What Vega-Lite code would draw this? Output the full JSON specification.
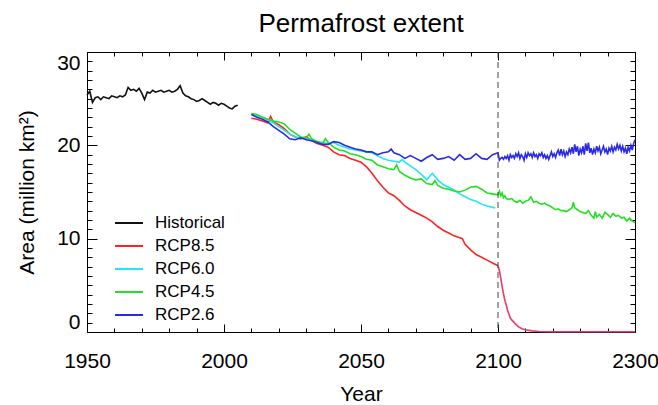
{
  "$schema": "https://vega.github.io/schema/vega-lite/v6.json",
  "width": 548,
  "height": 280,
  "autosize": {"type": "none"},
  "padding": {"left": 87, "top": 52, "right": 23, "bottom": 73},
  "background": "white",
  "config": {
    "font": "Liberation Sans",
    "view": {"stroke": "#000", "strokeWidth": 1},
    "axis": {"grid": false, "domain": false, "tickColor": "#000", "labelColor": "#000", "titleColor": "#000", "labelFont": "Liberation Sans", "titleFont": "Liberation Sans", "titleFontWeight": "normal", "tickWidth": 1}
  },
  "title": {"text": "Permafrost extent", "fontSize": 26, "fontWeight": "normal", "font": "Liberation Sans", "color": "#000", "anchor": "middle", "baseline": "alphabetic", "offset": 12, "dy": 18},
  "datasets": {
    "permafrost": [
      {"year": 1950, "series": "Historical", "area": 25.4},
      {"year": 1951, "series": "Historical", "area": 25.8},
      {"year": 1952, "series": "Historical", "area": 24.6},
      {"year": 1953, "series": "Historical", "area": 25.1},
      {"year": 1954, "series": "Historical", "area": 25.2},
      {"year": 1955, "series": "Historical", "area": 24.9},
      {"year": 1956, "series": "Historical", "area": 25.2},
      {"year": 1957, "series": "Historical", "area": 25.1},
      {"year": 1958, "series": "Historical", "area": 25.0},
      {"year": 1959, "series": "Historical", "area": 25.3},
      {"year": 1960, "series": "Historical", "area": 25.2},
      {"year": 1961, "series": "Historical", "area": 25.1},
      {"year": 1962, "series": "Historical", "area": 25.3},
      {"year": 1963, "series": "Historical", "area": 25.2},
      {"year": 1964, "series": "Historical", "area": 25.4},
      {"year": 1965, "series": "Historical", "area": 26.2},
      {"year": 1966, "series": "Historical", "area": 25.9},
      {"year": 1967, "series": "Historical", "area": 26.0},
      {"year": 1968, "series": "Historical", "area": 25.8},
      {"year": 1969, "series": "Historical", "area": 26.1},
      {"year": 1970, "series": "Historical", "area": 25.6},
      {"year": 1971, "series": "Historical", "area": 24.9},
      {"year": 1972, "series": "Historical", "area": 25.7},
      {"year": 1973, "series": "Historical", "area": 25.6},
      {"year": 1974, "series": "Historical", "area": 25.9},
      {"year": 1975, "series": "Historical", "area": 25.7},
      {"year": 1976, "series": "Historical", "area": 25.8},
      {"year": 1977, "series": "Historical", "area": 25.9},
      {"year": 1978, "series": "Historical", "area": 25.7},
      {"year": 1979, "series": "Historical", "area": 25.8},
      {"year": 1980, "series": "Historical", "area": 25.9},
      {"year": 1981, "series": "Historical", "area": 25.7},
      {"year": 1982, "series": "Historical", "area": 25.8},
      {"year": 1983, "series": "Historical", "area": 26.0},
      {"year": 1984, "series": "Historical", "area": 26.4},
      {"year": 1985, "series": "Historical", "area": 25.6},
      {"year": 1986, "series": "Historical", "area": 25.3},
      {"year": 1987, "series": "Historical", "area": 25.2},
      {"year": 1988, "series": "Historical", "area": 25.0},
      {"year": 1989, "series": "Historical", "area": 24.9},
      {"year": 1990, "series": "Historical", "area": 24.7},
      {"year": 1991, "series": "Historical", "area": 24.8},
      {"year": 1992, "series": "Historical", "area": 25.0},
      {"year": 1993, "series": "Historical", "area": 24.8},
      {"year": 1994, "series": "Historical", "area": 24.6},
      {"year": 1995, "series": "Historical", "area": 24.4},
      {"year": 1996, "series": "Historical", "area": 24.6},
      {"year": 1997, "series": "Historical", "area": 24.5},
      {"year": 1998, "series": "Historical", "area": 24.3},
      {"year": 1999, "series": "Historical", "area": 24.5},
      {"year": 2000, "series": "Historical", "area": 24.4},
      {"year": 2001, "series": "Historical", "area": 24.2},
      {"year": 2002, "series": "Historical", "area": 24.0},
      {"year": 2003, "series": "Historical", "area": 23.9},
      {"year": 2004, "series": "Historical", "area": 24.2},
      {"year": 2005, "series": "Historical", "area": 24.3},

      {"year": 2010, "series": "RCP8.5", "area": 22.9},
      {"year": 2012, "series": "RCP8.5", "area": 22.8},
      {"year": 2014, "series": "RCP8.5", "area": 22.6},
      {"year": 2016, "series": "RCP8.5", "area": 22.4},
      {"year": 2017, "series": "RCP8.5", "area": 23.1},
      {"year": 2018, "series": "RCP8.5", "area": 22.5},
      {"year": 2020, "series": "RCP8.5", "area": 22.2},
      {"year": 2022, "series": "RCP8.5", "area": 21.8},
      {"year": 2024, "series": "RCP8.5", "area": 21.2},
      {"year": 2026, "series": "RCP8.5", "area": 20.9},
      {"year": 2028, "series": "RCP8.5", "area": 20.7},
      {"year": 2030, "series": "RCP8.5", "area": 20.9},
      {"year": 2032, "series": "RCP8.5", "area": 20.5},
      {"year": 2034, "series": "RCP8.5", "area": 20.2},
      {"year": 2036, "series": "RCP8.5", "area": 20.0},
      {"year": 2038, "series": "RCP8.5", "area": 19.8},
      {"year": 2040, "series": "RCP8.5", "area": 19.3},
      {"year": 2042, "series": "RCP8.5", "area": 19.0},
      {"year": 2044, "series": "RCP8.5", "area": 18.9},
      {"year": 2046, "series": "RCP8.5", "area": 18.6},
      {"year": 2048, "series": "RCP8.5", "area": 18.4},
      {"year": 2050, "series": "RCP8.5", "area": 18.2},
      {"year": 2052, "series": "RCP8.5", "area": 17.7},
      {"year": 2054, "series": "RCP8.5", "area": 17.0},
      {"year": 2056, "series": "RCP8.5", "area": 16.2},
      {"year": 2058, "series": "RCP8.5", "area": 15.5},
      {"year": 2060, "series": "RCP8.5", "area": 14.9},
      {"year": 2062, "series": "RCP8.5", "area": 14.6},
      {"year": 2064, "series": "RCP8.5", "area": 14.1},
      {"year": 2066, "series": "RCP8.5", "area": 13.5},
      {"year": 2068, "series": "RCP8.5", "area": 13.1},
      {"year": 2070, "series": "RCP8.5", "area": 12.8},
      {"year": 2072, "series": "RCP8.5", "area": 12.5},
      {"year": 2074, "series": "RCP8.5", "area": 12.2},
      {"year": 2076, "series": "RCP8.5", "area": 11.8},
      {"year": 2078, "series": "RCP8.5", "area": 11.3},
      {"year": 2080, "series": "RCP8.5", "area": 10.9},
      {"year": 2082, "series": "RCP8.5", "area": 10.6},
      {"year": 2084, "series": "RCP8.5", "area": 10.3},
      {"year": 2086, "series": "RCP8.5", "area": 10.1},
      {"year": 2087, "series": "RCP8.5", "area": 10.0},
      {"year": 2088, "series": "RCP8.5", "area": 9.4},
      {"year": 2090, "series": "RCP8.5", "area": 8.8},
      {"year": 2092, "series": "RCP8.5", "area": 8.3},
      {"year": 2094, "series": "RCP8.5", "area": 8.0},
      {"year": 2096, "series": "RCP8.5", "area": 7.7},
      {"year": 2098, "series": "RCP8.5", "area": 7.4},
      {"year": 2100, "series": "RCP8.5", "area": 7.1},

      {"year": 2100, "series": "RCP8.5 ext", "area": 7.1},
      {"year": 2102, "series": "RCP8.5 ext", "area": 6.6},
      {"year": 2104, "series": "RCP8.5 ext", "area": 5.8},
      {"year": 2106, "series": "RCP8.5 ext", "area": 4.9},
      {"year": 2108, "series": "RCP8.5 ext", "area": 4.1},
      {"year": 2110, "series": "RCP8.5 ext", "area": 3.4},
      {"year": 2112, "series": "RCP8.5 ext", "area": 2.9},
      {"year": 2114, "series": "RCP8.5 ext", "area": 2.3},
      {"year": 2116, "series": "RCP8.5 ext", "area": 1.9},
      {"year": 2118, "series": "RCP8.5 ext", "area": 1.5},
      {"year": 2120, "series": "RCP8.5 ext", "area": 1.3},
      {"year": 2125, "series": "RCP8.5 ext", "area": 0.9},
      {"year": 2130, "series": "RCP8.5 ext", "area": 0.55},
      {"year": 2135, "series": "RCP8.5 ext", "area": 0.35},
      {"year": 2140, "series": "RCP8.5 ext", "area": 0.25},
      {"year": 2150, "series": "RCP8.5 ext", "area": 0.12},
      {"year": 2160, "series": "RCP8.5 ext", "area": 0.06},
      {"year": 2180, "series": "RCP8.5 ext", "area": 0.03},
      {"year": 2300, "series": "RCP8.5 ext", "area": 0.02},

      {"year": 2010, "series": "RCP6.0", "area": 23.4},
      {"year": 2012, "series": "RCP6.0", "area": 23.2},
      {"year": 2014, "series": "RCP6.0", "area": 23.0},
      {"year": 2016, "series": "RCP6.0", "area": 22.7},
      {"year": 2018, "series": "RCP6.0", "area": 22.4},
      {"year": 2020, "series": "RCP6.0", "area": 22.0},
      {"year": 2022, "series": "RCP6.0", "area": 21.6},
      {"year": 2024, "series": "RCP6.0", "area": 21.2},
      {"year": 2026, "series": "RCP6.0", "area": 20.9},
      {"year": 2028, "series": "RCP6.0", "area": 20.8},
      {"year": 2030, "series": "RCP6.0", "area": 20.7},
      {"year": 2032, "series": "RCP6.0", "area": 20.6},
      {"year": 2034, "series": "RCP6.0", "area": 20.4},
      {"year": 2036, "series": "RCP6.0", "area": 20.3},
      {"year": 2038, "series": "RCP6.0", "area": 20.2},
      {"year": 2040, "series": "RCP6.0", "area": 20.3},
      {"year": 2042, "series": "RCP6.0", "area": 20.0},
      {"year": 2044, "series": "RCP6.0", "area": 19.8},
      {"year": 2046, "series": "RCP6.0", "area": 19.6},
      {"year": 2048, "series": "RCP6.0", "area": 19.5},
      {"year": 2050, "series": "RCP6.0", "area": 19.4},
      {"year": 2052, "series": "RCP6.0", "area": 19.3},
      {"year": 2054, "series": "RCP6.0", "area": 19.2},
      {"year": 2056, "series": "RCP6.0", "area": 18.9},
      {"year": 2058, "series": "RCP6.0", "area": 18.6},
      {"year": 2060, "series": "RCP6.0", "area": 18.4},
      {"year": 2062, "series": "RCP6.0", "area": 18.3},
      {"year": 2064, "series": "RCP6.0", "area": 18.2},
      {"year": 2065, "series": "RCP6.0", "area": 18.5},
      {"year": 2066, "series": "RCP6.0", "area": 18.2},
      {"year": 2068, "series": "RCP6.0", "area": 17.8},
      {"year": 2070, "series": "RCP6.0", "area": 17.4},
      {"year": 2072, "series": "RCP6.0", "area": 16.9},
      {"year": 2074, "series": "RCP6.0", "area": 16.3},
      {"year": 2076, "series": "RCP6.0", "area": 17.0},
      {"year": 2078, "series": "RCP6.0", "area": 16.3},
      {"year": 2080, "series": "RCP6.0", "area": 15.8},
      {"year": 2082, "series": "RCP6.0", "area": 15.5},
      {"year": 2084, "series": "RCP6.0", "area": 15.2},
      {"year": 2086, "series": "RCP6.0", "area": 14.8},
      {"year": 2088, "series": "RCP6.0", "area": 14.5},
      {"year": 2090, "series": "RCP6.0", "area": 14.2},
      {"year": 2092, "series": "RCP6.0", "area": 14.0},
      {"year": 2094, "series": "RCP6.0", "area": 13.7},
      {"year": 2096, "series": "RCP6.0", "area": 13.5},
      {"year": 2099, "series": "RCP6.0", "area": 13.3},

      {"year": 2010, "series": "RCP4.5", "area": 23.4},
      {"year": 2012, "series": "RCP4.5", "area": 23.3},
      {"year": 2014, "series": "RCP4.5", "area": 23.0},
      {"year": 2016, "series": "RCP4.5", "area": 22.8},
      {"year": 2018, "series": "RCP4.5", "area": 22.6},
      {"year": 2020, "series": "RCP4.5", "area": 22.5},
      {"year": 2022, "series": "RCP4.5", "area": 22.3},
      {"year": 2024, "series": "RCP4.5", "area": 21.7},
      {"year": 2026, "series": "RCP4.5", "area": 21.3},
      {"year": 2028, "series": "RCP4.5", "area": 20.9},
      {"year": 2030, "series": "RCP4.5", "area": 20.8},
      {"year": 2031, "series": "RCP4.5", "area": 21.2},
      {"year": 2032, "series": "RCP4.5", "area": 20.7},
      {"year": 2034, "series": "RCP4.5", "area": 20.4},
      {"year": 2036, "series": "RCP4.5", "area": 20.2},
      {"year": 2037, "series": "RCP4.5", "area": 20.7},
      {"year": 2038, "series": "RCP4.5", "area": 20.3},
      {"year": 2040, "series": "RCP4.5", "area": 19.8},
      {"year": 2042, "series": "RCP4.5", "area": 19.5},
      {"year": 2044, "series": "RCP4.5", "area": 19.4},
      {"year": 2046, "series": "RCP4.5", "area": 19.1},
      {"year": 2048, "series": "RCP4.5", "area": 19.0},
      {"year": 2050, "series": "RCP4.5", "area": 18.8},
      {"year": 2052, "series": "RCP4.5", "area": 18.5},
      {"year": 2054, "series": "RCP4.5", "area": 18.4},
      {"year": 2056, "series": "RCP4.5", "area": 17.9},
      {"year": 2058, "series": "RCP4.5", "area": 17.7},
      {"year": 2060, "series": "RCP4.5", "area": 17.5},
      {"year": 2062, "series": "RCP4.5", "area": 17.4},
      {"year": 2063, "series": "RCP4.5", "area": 17.9},
      {"year": 2064, "series": "RCP4.5", "area": 17.2},
      {"year": 2066, "series": "RCP4.5", "area": 16.8},
      {"year": 2068, "series": "RCP4.5", "area": 16.5},
      {"year": 2070, "series": "RCP4.5", "area": 16.3},
      {"year": 2072, "series": "RCP4.5", "area": 16.4},
      {"year": 2074, "series": "RCP4.5", "area": 15.9},
      {"year": 2076, "series": "RCP4.5", "area": 15.8},
      {"year": 2077, "series": "RCP4.5", "area": 16.2},
      {"year": 2078, "series": "RCP4.5", "area": 15.7},
      {"year": 2080, "series": "RCP4.5", "area": 15.4},
      {"year": 2082, "series": "RCP4.5", "area": 15.3},
      {"year": 2084, "series": "RCP4.5", "area": 15.1},
      {"year": 2086, "series": "RCP4.5", "area": 15.0},
      {"year": 2088, "series": "RCP4.5", "area": 15.2},
      {"year": 2090, "series": "RCP4.5", "area": 15.5},
      {"year": 2092, "series": "RCP4.5", "area": 15.6},
      {"year": 2094, "series": "RCP4.5", "area": 15.3},
      {"year": 2096, "series": "RCP4.5", "area": 14.9},
      {"year": 2098, "series": "RCP4.5", "area": 14.8},
      {"year": 2100, "series": "RCP4.5", "area": 14.7},
      {"year": 2102, "series": "RCP4.5", "area": 15.1},
      {"year": 2104, "series": "RCP4.5", "area": 14.6},
      {"year": 2106, "series": "RCP4.5", "area": 14.9},
      {"year": 2108, "series": "RCP4.5", "area": 14.4},
      {"year": 2110, "series": "RCP4.5", "area": 14.6},
      {"year": 2112, "series": "RCP4.5", "area": 14.3},
      {"year": 2116, "series": "RCP4.5", "area": 14.2},
      {"year": 2120, "series": "RCP4.5", "area": 14.3},
      {"year": 2124, "series": "RCP4.5", "area": 14.0},
      {"year": 2128, "series": "RCP4.5", "area": 13.9},
      {"year": 2132, "series": "RCP4.5", "area": 14.1},
      {"year": 2136, "series": "RCP4.5", "area": 13.8},
      {"year": 2140, "series": "RCP4.5", "area": 14.0},
      {"year": 2144, "series": "RCP4.5", "area": 14.1},
      {"year": 2148, "series": "RCP4.5", "area": 14.5},
      {"year": 2152, "series": "RCP4.5", "area": 13.9},
      {"year": 2156, "series": "RCP4.5", "area": 14.0},
      {"year": 2160, "series": "RCP4.5", "area": 13.8},
      {"year": 2164, "series": "RCP4.5", "area": 13.7},
      {"year": 2168, "series": "RCP4.5", "area": 13.8},
      {"year": 2172, "series": "RCP4.5", "area": 13.6},
      {"year": 2176, "series": "RCP4.5", "area": 13.5},
      {"year": 2180, "series": "RCP4.5", "area": 13.3},
      {"year": 2184, "series": "RCP4.5", "area": 13.1},
      {"year": 2188, "series": "RCP4.5", "area": 13.2},
      {"year": 2192, "series": "RCP4.5", "area": 13.0},
      {"year": 2196, "series": "RCP4.5", "area": 13.0},
      {"year": 2200, "series": "RCP4.5", "area": 12.9},
      {"year": 2204, "series": "RCP4.5", "area": 13.1},
      {"year": 2208, "series": "RCP4.5", "area": 13.3},
      {"year": 2210, "series": "RCP4.5", "area": 13.9},
      {"year": 2212, "series": "RCP4.5", "area": 13.3},
      {"year": 2216, "series": "RCP4.5", "area": 13.1},
      {"year": 2220, "series": "RCP4.5", "area": 12.9},
      {"year": 2224, "series": "RCP4.5", "area": 12.8},
      {"year": 2228, "series": "RCP4.5", "area": 12.7},
      {"year": 2232, "series": "RCP4.5", "area": 13.0},
      {"year": 2236, "series": "RCP4.5", "area": 12.5},
      {"year": 2240, "series": "RCP4.5", "area": 12.2},
      {"year": 2242, "series": "RCP4.5", "area": 12.9},
      {"year": 2244, "series": "RCP4.5", "area": 12.3},
      {"year": 2248, "series": "RCP4.5", "area": 12.6},
      {"year": 2252, "series": "RCP4.5", "area": 12.2},
      {"year": 2256, "series": "RCP4.5", "area": 12.8},
      {"year": 2260, "series": "RCP4.5", "area": 12.6},
      {"year": 2264, "series": "RCP4.5", "area": 12.3},
      {"year": 2268, "series": "RCP4.5", "area": 12.7},
      {"year": 2272, "series": "RCP4.5", "area": 12.4},
      {"year": 2276, "series": "RCP4.5", "area": 12.5},
      {"year": 2280, "series": "RCP4.5", "area": 12.2},
      {"year": 2284, "series": "RCP4.5", "area": 12.3},
      {"year": 2288, "series": "RCP4.5", "area": 11.9},
      {"year": 2292, "series": "RCP4.5", "area": 12.2},
      {"year": 2296, "series": "RCP4.5", "area": 11.9},
      {"year": 2300, "series": "RCP4.5", "area": 11.7},

      {"year": 2010, "series": "RCP2.6", "area": 23.3},
      {"year": 2012, "series": "RCP2.6", "area": 23.0},
      {"year": 2014, "series": "RCP2.6", "area": 22.8},
      {"year": 2016, "series": "RCP2.6", "area": 22.5},
      {"year": 2018, "series": "RCP2.6", "area": 22.0},
      {"year": 2020, "series": "RCP2.6", "area": 21.6},
      {"year": 2022, "series": "RCP2.6", "area": 21.2},
      {"year": 2024, "series": "RCP2.6", "area": 20.7},
      {"year": 2026, "series": "RCP2.6", "area": 20.6},
      {"year": 2028, "series": "RCP2.6", "area": 20.8},
      {"year": 2030, "series": "RCP2.6", "area": 20.6},
      {"year": 2032, "series": "RCP2.6", "area": 20.5},
      {"year": 2034, "series": "RCP2.6", "area": 20.3},
      {"year": 2036, "series": "RCP2.6", "area": 20.1},
      {"year": 2038, "series": "RCP2.6", "area": 20.1},
      {"year": 2040, "series": "RCP2.6", "area": 20.4},
      {"year": 2042, "series": "RCP2.6", "area": 20.3},
      {"year": 2044, "series": "RCP2.6", "area": 20.0},
      {"year": 2046, "series": "RCP2.6", "area": 19.8},
      {"year": 2048, "series": "RCP2.6", "area": 19.6},
      {"year": 2050, "series": "RCP2.6", "area": 19.5},
      {"year": 2052, "series": "RCP2.6", "area": 19.3},
      {"year": 2054, "series": "RCP2.6", "area": 19.3},
      {"year": 2056, "series": "RCP2.6", "area": 19.0},
      {"year": 2058, "series": "RCP2.6", "area": 19.2},
      {"year": 2060, "series": "RCP2.6", "area": 19.3},
      {"year": 2061, "series": "RCP2.6", "area": 19.6},
      {"year": 2062, "series": "RCP2.6", "area": 19.2},
      {"year": 2064, "series": "RCP2.6", "area": 19.0},
      {"year": 2066, "series": "RCP2.6", "area": 18.6},
      {"year": 2068, "series": "RCP2.6", "area": 18.9},
      {"year": 2070, "series": "RCP2.6", "area": 18.6},
      {"year": 2072, "series": "RCP2.6", "area": 18.3},
      {"year": 2074, "series": "RCP2.6", "area": 18.7},
      {"year": 2076, "series": "RCP2.6", "area": 19.0},
      {"year": 2078, "series": "RCP2.6", "area": 18.5},
      {"year": 2080, "series": "RCP2.6", "area": 18.6},
      {"year": 2082, "series": "RCP2.6", "area": 18.8},
      {"year": 2084, "series": "RCP2.6", "area": 18.4},
      {"year": 2086, "series": "RCP2.6", "area": 19.0},
      {"year": 2088, "series": "RCP2.6", "area": 18.5},
      {"year": 2090, "series": "RCP2.6", "area": 18.6},
      {"year": 2092, "series": "RCP2.6", "area": 19.1},
      {"year": 2094, "series": "RCP2.6", "area": 18.6},
      {"year": 2096, "series": "RCP2.6", "area": 18.5},
      {"year": 2098, "series": "RCP2.6", "area": 19.0},
      {"year": 2100, "series": "RCP2.6", "area": 19.2},
      {"year": 2102, "series": "RCP2.6", "area": 18.4},
      {"year": 2104, "series": "RCP2.6", "area": 18.6},
      {"year": 2106, "series": "RCP2.6", "area": 18.7},
      {"year": 2108, "series": "RCP2.6", "area": 18.5},
      {"year": 2110, "series": "RCP2.6", "area": 18.8},
      {"year": 2112, "series": "RCP2.6", "area": 18.6},
      {"year": 2114, "series": "RCP2.6", "area": 18.9},
      {"year": 2116, "series": "RCP2.6", "area": 18.4},
      {"year": 2118, "series": "RCP2.6", "area": 19.0},
      {"year": 2120, "series": "RCP2.6", "area": 18.7},
      {"year": 2122, "series": "RCP2.6", "area": 18.9},
      {"year": 2124, "series": "RCP2.6", "area": 18.6},
      {"year": 2126, "series": "RCP2.6", "area": 19.1},
      {"year": 2128, "series": "RCP2.6", "area": 18.8},
      {"year": 2130, "series": "RCP2.6", "area": 19.2},
      {"year": 2132, "series": "RCP2.6", "area": 18.6},
      {"year": 2134, "series": "RCP2.6", "area": 19.0},
      {"year": 2136, "series": "RCP2.6", "area": 18.8},
      {"year": 2138, "series": "RCP2.6", "area": 18.4},
      {"year": 2140, "series": "RCP2.6", "area": 19.1},
      {"year": 2142, "series": "RCP2.6", "area": 18.7},
      {"year": 2144, "series": "RCP2.6", "area": 19.2},
      {"year": 2146, "series": "RCP2.6", "area": 18.9},
      {"year": 2148, "series": "RCP2.6", "area": 19.1},
      {"year": 2150, "series": "RCP2.6", "area": 18.7},
      {"year": 2152, "series": "RCP2.6", "area": 19.2},
      {"year": 2154, "series": "RCP2.6", "area": 18.8},
      {"year": 2156, "series": "RCP2.6", "area": 19.0},
      {"year": 2158, "series": "RCP2.6", "area": 18.6},
      {"year": 2160, "series": "RCP2.6", "area": 19.1},
      {"year": 2162, "series": "RCP2.6", "area": 18.9},
      {"year": 2164, "series": "RCP2.6", "area": 19.2},
      {"year": 2166, "series": "RCP2.6", "area": 18.7},
      {"year": 2168, "series": "RCP2.6", "area": 19.0},
      {"year": 2170, "series": "RCP2.6", "area": 18.6},
      {"year": 2172, "series": "RCP2.6", "area": 18.9},
      {"year": 2174, "series": "RCP2.6", "area": 18.5},
      {"year": 2176, "series": "RCP2.6", "area": 18.9},
      {"year": 2178, "series": "RCP2.6", "area": 19.3},
      {"year": 2180, "series": "RCP2.6", "area": 18.8},
      {"year": 2182, "series": "RCP2.6", "area": 19.1},
      {"year": 2184, "series": "RCP2.6", "area": 18.7},
      {"year": 2186, "series": "RCP2.6", "area": 19.2},
      {"year": 2188, "series": "RCP2.6", "area": 19.5},
      {"year": 2190, "series": "RCP2.6", "area": 18.9},
      {"year": 2192, "series": "RCP2.6", "area": 19.6},
      {"year": 2194, "series": "RCP2.6", "area": 19.0},
      {"year": 2196, "series": "RCP2.6", "area": 19.4},
      {"year": 2198, "series": "RCP2.6", "area": 18.8},
      {"year": 2200, "series": "RCP2.6", "area": 19.3},
      {"year": 2202, "series": "RCP2.6", "area": 19.0},
      {"year": 2204, "series": "RCP2.6", "area": 19.6},
      {"year": 2206, "series": "RCP2.6", "area": 19.2},
      {"year": 2208, "series": "RCP2.6", "area": 19.8},
      {"year": 2210, "series": "RCP2.6", "area": 19.1},
      {"year": 2212, "series": "RCP2.6", "area": 20.1},
      {"year": 2214, "series": "RCP2.6", "area": 19.3},
      {"year": 2216, "series": "RCP2.6", "area": 19.9},
      {"year": 2218, "series": "RCP2.6", "area": 18.9},
      {"year": 2220, "series": "RCP2.6", "area": 19.6},
      {"year": 2222, "series": "RCP2.6", "area": 19.2},
      {"year": 2224, "series": "RCP2.6", "area": 19.9},
      {"year": 2226, "series": "RCP2.6", "area": 19.0},
      {"year": 2228, "series": "RCP2.6", "area": 20.2},
      {"year": 2230, "series": "RCP2.6", "area": 19.4},
      {"year": 2232, "series": "RCP2.6", "area": 20.3},
      {"year": 2234, "series": "RCP2.6", "area": 19.2},
      {"year": 2236, "series": "RCP2.6", "area": 19.7},
      {"year": 2238, "series": "RCP2.6", "area": 19.0},
      {"year": 2240, "series": "RCP2.6", "area": 19.6},
      {"year": 2242, "series": "RCP2.6", "area": 19.2},
      {"year": 2244, "series": "RCP2.6", "area": 19.9},
      {"year": 2246, "series": "RCP2.6", "area": 19.4},
      {"year": 2248, "series": "RCP2.6", "area": 19.8},
      {"year": 2250, "series": "RCP2.6", "area": 19.1},
      {"year": 2252, "series": "RCP2.6", "area": 19.5},
      {"year": 2254, "series": "RCP2.6", "area": 19.9},
      {"year": 2256, "series": "RCP2.6", "area": 19.3},
      {"year": 2258, "series": "RCP2.6", "area": 19.6},
      {"year": 2260, "series": "RCP2.6", "area": 19.0},
      {"year": 2262, "series": "RCP2.6", "area": 19.7},
      {"year": 2264, "series": "RCP2.6", "area": 19.4},
      {"year": 2266, "series": "RCP2.6", "area": 19.9},
      {"year": 2268, "series": "RCP2.6", "area": 19.3},
      {"year": 2270, "series": "RCP2.6", "area": 19.8},
      {"year": 2272, "series": "RCP2.6", "area": 19.5},
      {"year": 2274, "series": "RCP2.6", "area": 20.1},
      {"year": 2276, "series": "RCP2.6", "area": 19.6},
      {"year": 2278, "series": "RCP2.6", "area": 20.0},
      {"year": 2280, "series": "RCP2.6", "area": 19.4},
      {"year": 2282, "series": "RCP2.6", "area": 19.9},
      {"year": 2284, "series": "RCP2.6", "area": 19.3},
      {"year": 2286, "series": "RCP2.6", "area": 19.7},
      {"year": 2288, "series": "RCP2.6", "area": 19.1},
      {"year": 2290, "series": "RCP2.6", "area": 19.8},
      {"year": 2292, "series": "RCP2.6", "area": 19.4},
      {"year": 2294, "series": "RCP2.6", "area": 20.0},
      {"year": 2296, "series": "RCP2.6", "area": 19.5},
      {"year": 2298, "series": "RCP2.6", "area": 20.2},
      {"year": 2300, "series": "RCP2.6", "area": 20.6}
    ],
    "marker": [{"year": 2100}]
  },
  "data": {"name": "permafrost"},
  "resolve": {"axis": {"x": "independent", "y": "independent"}},
  "layer": [
    {
      "mark": {"type": "line", "strokeWidth": 1.6, "interpolate": "linear"},
      "encoding": {
        "x": {"field": "year", "type": "quantitative",
          "scale": {"domain": [1950, 2100, 2300], "range": [0, 411, 548], "nice": false, "zero": false},
          "axis": {"orient": "bottom", "values": [1950, 2000, 2050, 2100, 2300], "format": "d", "tickSize": -8, "labelPadding": 26, "labelFlush": false, "labelFontSize": 21, "title": "Year", "titleFontSize": 21, "titlePadding": 12}},
        "y": {"field": "area", "type": "quantitative",
          "scale": {"domain": [0, 30], "nice": false, "zero": false},
          "axis": {"orient": "left", "values": [0, 10, 20, 30], "tickSize": -10, "labelPadding": 17, "labelFontSize": 21, "labelFlush": true, "title": "Area (million km²)", "titleFontSize": 21, "titlePadding": 19}},
        "color": {"field": "series", "type": "nominal",
          "scale": {"domain": ["Historical", "RCP8.5", "RCP6.0", "RCP4.5", "RCP2.6", "RCP8.5 ext"], "range": ["#111111", "#ff2222", "#22e6f2", "#22e022", "#2a2ae6", "#ec3a6c"]},
          "legend": {"values": ["Historical", "RCP8.5", "RCP6.0", "RCP4.5", "RCP2.6"], "title": null, "orient": "none", "legendX": 27, "legendY": 156, "symbolType": "stroke", "symbolSize": 784, "symbolStrokeWidth": 2, "rowPadding": -4, "labelFontSize": 17, "labelOffset": 11, "labelFont": "Liberation Sans", "labelColor": "#000", "padding": 0}}
      }
    },
    {
      "transform": [{"filter": "datum.series == 'Historical'"}],
      "mark": {"type": "point", "opacity": 0},
      "encoding": {
        "x": {"field": "year", "type": "quantitative",
          "axis": {"orient": "bottom", "values": [1960, 1970, 1980, 1990, 2010, 2020, 2030, 2040, 2060, 2070, 2080, 2090, 2140, 2180, 2220, 2260], "tickSize": -4, "labels": false, "title": null}},
        "y": {"field": "area", "type": "quantitative",
          "axis": {"orient": "left", "values": [1, 2, 3, 4, 5, 6, 7, 8, 9, 11, 12, 13, 14, 15, 16, 17, 18, 19, 21, 22, 23, 24, 25, 26, 27, 28, 29], "tickSize": -5, "labels": false, "title": null}}
      }
    },
    {
      "transform": [{"filter": "datum.series == 'Historical'"}],
      "mark": {"type": "point", "opacity": 0},
      "encoding": {
        "x": {"field": "year", "type": "quantitative",
          "axis": {"orient": "top", "values": [1950, 2000, 2050, 2100, 2300], "tickSize": -8, "labels": false, "title": null}},
        "y": {"field": "area", "type": "quantitative",
          "axis": {"orient": "right", "values": [0, 10, 20, 30], "tickSize": -10, "labels": false, "title": null}}
      }
    },
    {
      "transform": [{"filter": "datum.series == 'Historical'"}],
      "mark": {"type": "point", "opacity": 0},
      "encoding": {
        "x": {"field": "year", "type": "quantitative",
          "axis": {"orient": "top", "values": [1960, 1970, 1980, 1990, 2010, 2020, 2030, 2040, 2060, 2070, 2080, 2090, 2140, 2180, 2220, 2260], "tickSize": -4, "labels": false, "title": null}},
        "y": {"field": "area", "type": "quantitative",
          "axis": {"orient": "right", "values": [1, 2, 3, 4, 5, 6, 7, 8, 9, 11, 12, 13, 14, 15, 16, 17, 18, 19, 21, 22, 23, 24, 25, 26, 27, 28, 29], "tickSize": -5, "labels": false, "title": null}}
      }
    },
    {
      "data": {"name": "marker"},
      "mark": {"type": "rule", "color": "#444444", "strokeWidth": 1, "strokeDash": [6, 4]},
      "encoding": {
        "x": {"field": "year", "type": "quantitative", "axis": null}
      }
    }
  ]
}
